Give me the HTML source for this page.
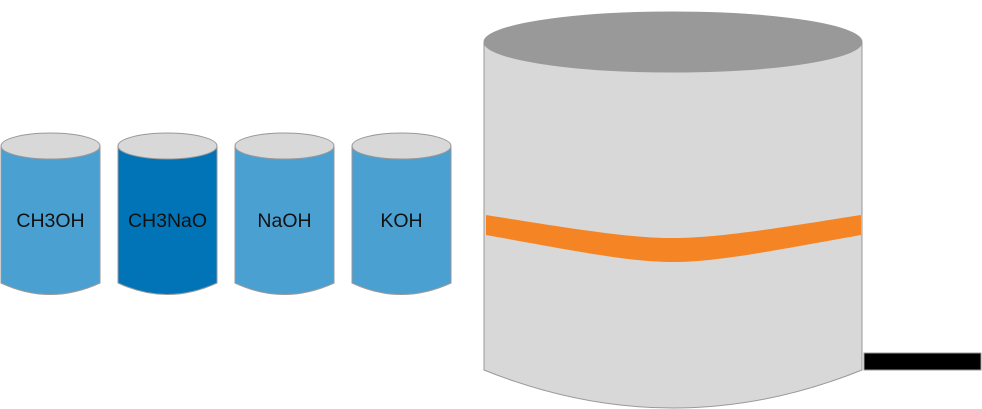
<!DOCTYPE html>
<html><head><style>body{margin:0;background:#fff}svg{display:block}</style></head><body>
<svg width="982" height="409" viewBox="0 0 982 409" xmlns="http://www.w3.org/2000/svg" font-family="Liberation Sans, sans-serif">
<g stroke="#999" stroke-width="1">
<g>
<path d="M1,146 L1,283 Q50,306 100,283 L100,146 Z" fill="#4ba0d2"/>
<ellipse cx="50.5" cy="146" rx="49.5" ry="13" fill="#d8d8d8"/>
</g>
<g>
<path d="M118,146 L118,283 Q167,306 217,283 L217,146 Z" fill="#0174b8"/>
<ellipse cx="167.5" cy="146" rx="49.5" ry="13" fill="#d8d8d8"/>
</g>
<g>
<path d="M235,146 L235,283 Q284,306 334,283 L334,146 Z" fill="#4ba0d2"/>
<ellipse cx="284.5" cy="146" rx="49.5" ry="13" fill="#d8d8d8"/>
</g>
<g>
<path d="M352,146 L352,283 Q401,306 451,283 L451,146 Z" fill="#4ba0d2"/>
<ellipse cx="401.5" cy="146" rx="49.5" ry="13" fill="#d8d8d8"/>
</g>
<path d="M484,42 L484,370 Q673,446 862,370 L862,42 Z" fill="#d8d8d8"/>
<ellipse cx="673" cy="42" rx="189" ry="30" fill="#999"/>
<rect x="864" y="353" width="117" height="17" fill="#000"/>
</g>
<path d="M486,215 C580,230 630,238 673,238 C716,238 766,230 861,215 L861,235 C766,252 716,262 673,262 C630,262 580,252 486,235 Z" fill="#f58524"/>
<g font-size="19.5" fill="#111" text-anchor="middle">
<text x="50.5" y="227">CH3OH</text>
<text x="167.5" y="227">CH3NaO</text>
<text x="284.5" y="227">NaOH</text>
<text x="401.5" y="227">KOH</text>
</g>
</svg>
</body></html>
